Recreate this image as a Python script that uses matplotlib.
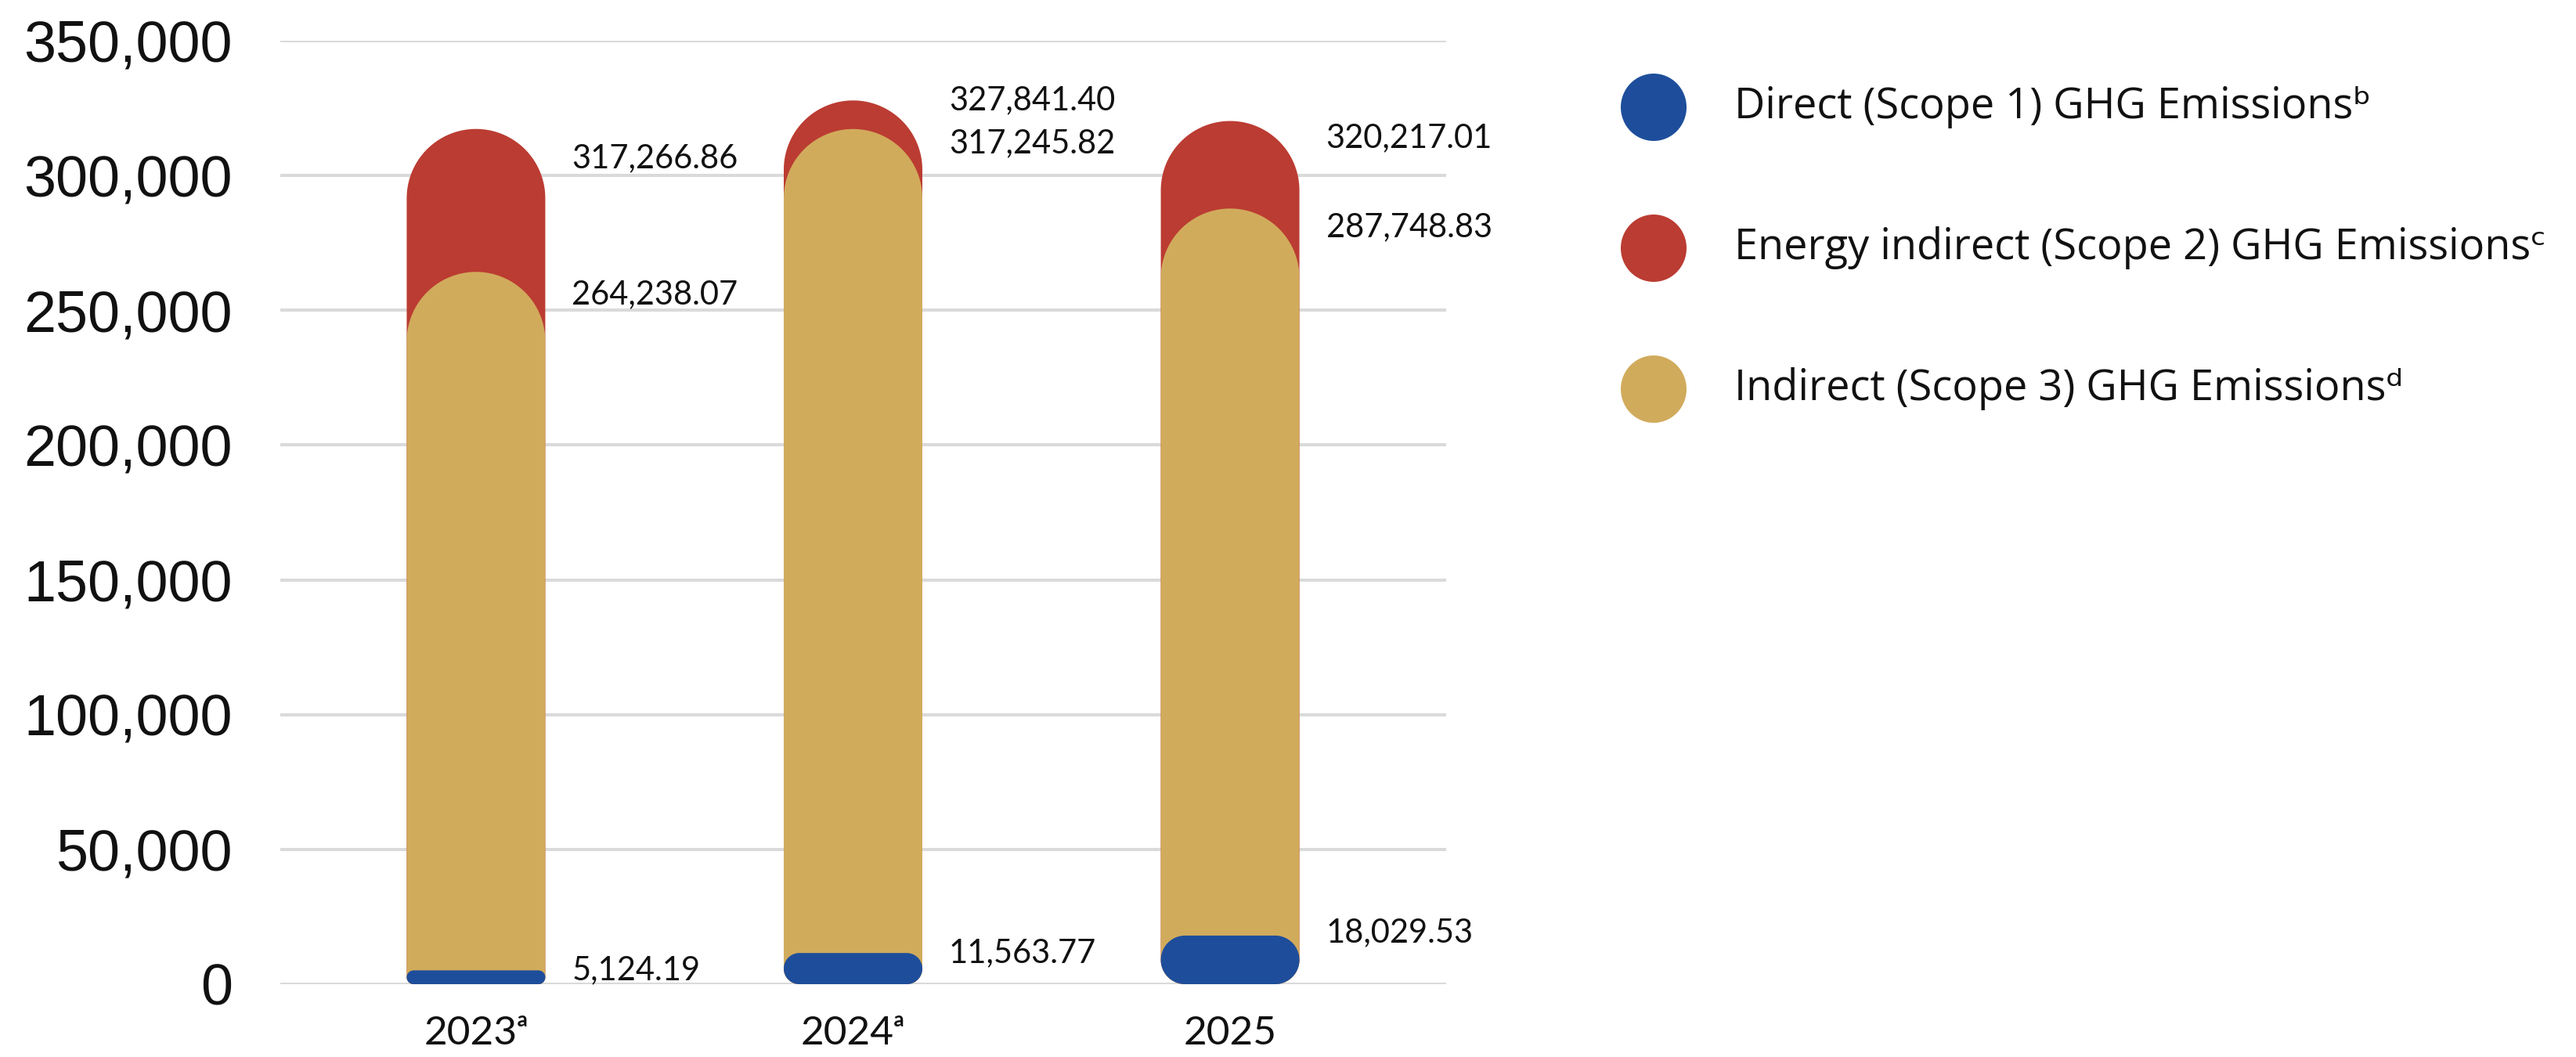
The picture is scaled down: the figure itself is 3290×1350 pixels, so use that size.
import matplotlib
matplotlib.use("Agg")
import matplotlib.pyplot as plt
import numpy as np
from matplotlib.path import Path
from matplotlib.patches import PathPatch, Ellipse

# GHG emissions by year; labels are the cumulative top of each segment
years = ["2023ᵃ", "2024ᵃ", "2025"]
scope1 = [5124.19, 11563.77, 18029.53]
scope1_3 = [264238.07, 317245.82, 287748.83]   # Scope 1 + Scope 3
total = [317266.86, 327841.40, 320217.01]      # Scope 1 + Scope 3 + Scope 2
series_names = [
    "Direct (Scope 1) GHG Emissionsᵇ",
    "Energy indirect (Scope 2) GHG Emissionsᶜ",
    "Indirect (Scope 3) GHG Emissionsᵈ",
]
y_ticks = [0, 50000, 100000, 150000, 200000, 250000, 300000, 350000]

BLUE = "#1e4e9b"
RED = "#bb3c32"
GOLD = "#d1ab5c"
GRID = "#dadada"
INK = "#111111"
LABEL_FONT = ["Lato", "DejaVu Sans"]
LEGEND_FONT = ["Open Sans", "DejaVu Sans"]

# label nudges in pixels (positive = up)
red_dy = [-38, 0, -22]
gold_dy = [-29, -18, -24]
blue_dy = [0, 0, 4]

W, H = 3290, 1350
fig = plt.figure(figsize=(W / 100, H / 100), dpi=100)
ax = fig.add_axes([358 / W, 1 - 1257 / H, (1847 - 358) / W, (1257 - 52) / H])

x = np.arange(len(years))
ax.set_xlim(-0.519, 2.573)
ax.set_ylim(0, 350000)

for s in ax.spines.values():
    s.set_visible(False)
ax.set_axisbelow(True)
ax.yaxis.grid(True, color=GRID, linewidth=2.9)
ax.set_yticks(y_ticks)
ax.set_yticklabels([f"{v:,}" for v in y_ticks], fontsize=53,
                   family="Liberation Sans", color=INK)
ax.tick_params(axis="y", length=0, pad=44)
ax.set_xticks(x)
ax.set_xticklabels(years, fontsize=37, family=LABEL_FONT, color=INK)
ax.tick_params(axis="x", length=0, pad=29)

# data units per pixel, used to keep the rounded ends circular
t = ax.transData
p0 = t.transform((0, 0))
p1 = t.transform((1, 1))
dx = 1 / (p1[0] - p0[0])
dy = 1 / (p1[1] - p0[1])

bar_px = 177
half_w = bar_px / 2 * dx


def rounded_bar(xc, top, r_top, r_bot, n=40):
    """Closed path for a bar from 0 to top with rounded corners (radii in px)."""
    left, right = xc - half_w, xc + half_w
    rxt, ryt = r_top * dx, r_top * dy
    rxb, ryb = r_bot * dx, r_bot * dy
    pts = []
    for a0, a1, cx, cy, rx, ry in [
        (np.pi, 1.5 * np.pi, left + rxb, ryb, rxb, ryb),
        (1.5 * np.pi, 2 * np.pi, right - rxb, ryb, rxb, ryb),
        (0, 0.5 * np.pi, right - rxt, top - ryt, rxt, ryt),
        (0.5 * np.pi, np.pi, left + rxt, top - ryt, rxt, ryt),
    ]:
        th = np.linspace(a0, a1, n)
        pts += list(zip(cx + rx * np.cos(th), cy + ry * np.sin(th)))
    pts.append(pts[0])
    return Path(pts, closed=True)


for i in x:
    blue_h_px = scope1[i] / dy
    r_blue = min(blue_h_px / 2, 38)
    ax.add_patch(PathPatch(rounded_bar(i, total[i], bar_px / 2, r_blue),
                           facecolor=RED, edgecolor="none", zorder=2))
    ax.add_patch(PathPatch(rounded_bar(i, scope1_3[i], bar_px / 2, r_blue),
                           facecolor=GOLD, edgecolor="none", zorder=3))
    ax.add_patch(PathPatch(rounded_bar(i, scope1[i], r_blue, r_blue),
                           facecolor=BLUE, edgecolor="none", zorder=4))

label_kw = dict(textcoords="offset pixels", fontsize=30, family=LABEL_FONT,
                color=INK, ha="left", va="center")
gap = 34
for i in x:
    ax.annotate(f"{total[i]:,.2f}", (i + half_w, total[i]),
                xytext=(gap, red_dy[i]), **label_kw)
    ax.annotate(f"{scope1_3[i]:,.2f}", (i + half_w, scope1_3[i]),
                xytext=(gap, gold_dy[i]), **label_kw)
    ax.annotate(f"{scope1[i]:,.2f}", (i + half_w, scope1[i]),
                xytext=(gap, blue_dy[i]), **label_kw)

# legend on the right
for k, (name, color) in enumerate(zip(series_names, [BLUE, RED, GOLD])):
    cy = 137 + 180 * k
    fig.patches.append(Ellipse((2112 / W, 1 - cy / H), 84 / W, 86 / H,
                               transform=fig.transFigure, facecolor=color,
                               edgecolor="none"))
    fig.text(2215 / W, 1 - cy / H, name, fontsize=39, family=LEGEND_FONT,
             color=INK, ha="left", va="center")

fig.savefig("out.png", dpi=100, facecolor="white")
